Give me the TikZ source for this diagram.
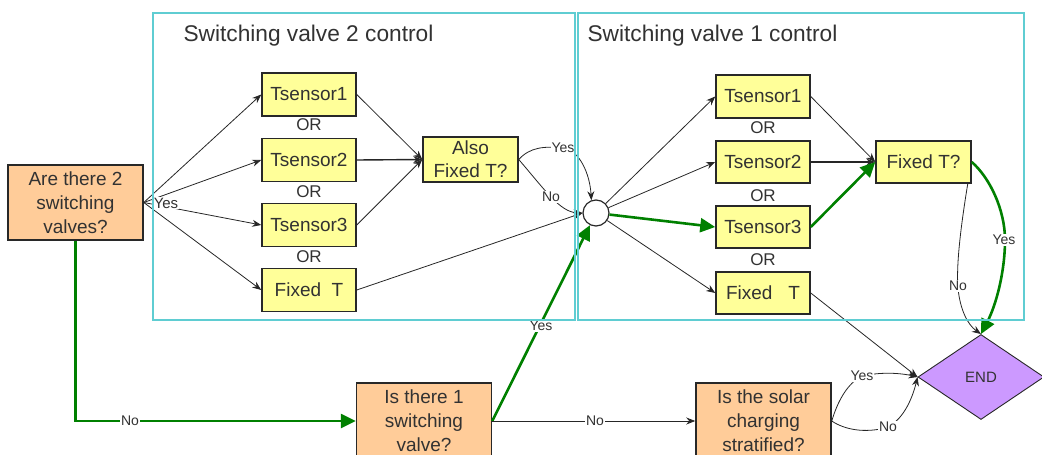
\documentclass[tikz,border=0pt]{standalone}
\usepackage{fontspec}
\setmainfont{Liberation Sans}
\usetikzlibrary{arrows.meta,shapes.geometric}
\definecolor{framec}{RGB}{95,205,210}
\definecolor{ybox}{RGB}{255,255,153}
\definecolor{obox}{RGB}{255,204,153}
\definecolor{pbox}{RGB}{204,153,255}
\definecolor{gline}{RGB}{0,128,0}
\definecolor{txt}{RGB}{50,50,50}
\definecolor{bord}{RGB}{40,40,40}
\begin{document}
\begin{tikzpicture}[x=1pt,y=-1pt,
  ybx/.style={draw=bord, line width=1.5pt, fill=ybox, minimum width=94pt, minimum height=43pt, inner sep=0pt, font=\fontsize{19}{23}\selectfont, text=txt, align=center},
  obx/.style={draw=bord, line width=1.5pt, fill=obox, minimum width=135pt, minimum height=75pt, inner sep=0pt, font=\fontsize{19}{24}\selectfont, text=txt, align=center},
  lbl/.style={fill=white, inner sep=1pt, font=\fontsize{14}{15}\selectfont, text=txt},
  orl/.style={font=\fontsize{17}{17}\selectfont, text=txt},
  ttl/.style={font=\fontsize{22.7}{23}\selectfont, text=txt, anchor=west},
  bl/.style={draw=black!85, line width=0.8pt, -{Stealth[length=9pt,width=7pt]}},
  gl/.style={draw=gline, line width=2.6pt, -{Triangle[length=15pt,width=14pt]}},
  framebox/.style={draw=framec, line width=1.4pt}
]
\useasboundingbox (0,0) rectangle (1042,455);

% nodes
\node[obx] (q2) at (75.5,202.5) {Are there 2\\switching\\valves?};
\node[ybx] (l1) at (309,94.5) {Tsensor1};
\node[ybx] (l2) at (309,160) {Tsensor2};
\node[ybx] (l3) at (309,225) {Tsensor3};
\node[ybx] (lf) at (309,290) {Fixed\ \ T};
\node[ybx, minimum width=95pt, minimum height=45pt] (also) at (470.5,159.5) {Also\\Fixed T?};
\node[draw=bord, line width=1.2pt, fill=white, circle, minimum size=26pt, inner sep=0pt] (circ) at (596,213) {};
\node[ybx] (r1) at (763,96.5) {Tsensor1};
\node[ybx, minimum height=42pt] (r2) at (763,162) {Tsensor2};
\node[ybx, minimum height=42pt] (r3) at (763,227) {Tsensor3};
\node[ybx, minimum height=42pt] (rf) at (763,293) {Fixed\ \ \ T};
\node[ybx, minimum width=95pt, minimum height=42pt] (fix) at (923.5,162) {Fixed T?};
\node[draw=bord, line width=0.9pt, fill=pbox, diamond, aspect=1.48, minimum width=126pt, minimum height=85pt, inner sep=0pt, font=\fontsize{15}{15}\selectfont, text=txt] (end) at (981,377) {END};
\node[obx, minimum height=76pt] (q1) at (424,421) {Is there 1\\switching\\valve?};
\node[obx, minimum height=76pt] (solar) at (763.5,421) {Is the solar\\charging\\stratified?};

% OR labels
\node[orl] (or1) at (309,125) {OR};
\node[orl] (or2) at (309,192) {OR};
\node[orl] (or3) at (309,257) {OR};
\node[orl] (or4) at (763,128) {OR};
\node[orl] (or5) at (763,196) {OR};
\node[orl] (or6) at (763,260) {OR};

% left panel connectors
\draw[bl] (q2.east) -- (l1.west);
\draw[bl] (q2.east) -- (l2.west);
\draw[bl] (q2.east) -- (l3.west);
\draw[bl] (q2.east) -- (lf.west);
\node[lbl, font=\fontsize{15}{15}\selectfont] (yesq2) at (166,203) {Yes};

\draw[bl] (l1.east) -- (also.west);
\draw[bl, line width=1.4pt] (l2.east) -- (also.west);
\draw[bl] (l3.east) -- (also.west);

\draw[bl] (also.east) .. controls (530,147) and (545,146) .. (563,148) .. controls (580,150) and (590,175) .. (circ.110);
\node[lbl] (yesa) at (563,148) {Yes};
\draw[bl] (also.east) .. controls (545,190) and (560,212) .. (circ.west);
\node[lbl] (noa) at (551,197) {No};
\draw[bl] (lf.east) -- (circ.west);

% right panel connectors
\draw[bl] (circ) -- (r1.west);
\draw[bl] (circ) -- (r2.west);
\draw[gl] (circ) -- (r3.west);
\draw[bl] (circ) -- (rf.west);
\draw[bl] (r1.east) -- (fix.west);
\draw[bl, line width=1.2pt] (r2.east) -- (fix.west);
\draw[gl] (r3.east) -- (fix.west);

\draw[bl] ([xshift=-4pt]fix.south east) .. controls (961,225) and (956,265) .. (958,288) .. controls (960,310) and (968,325) .. (end.north);
\node[lbl] (nof) at (958,286) {No};
\draw[gl] (fix.east) .. controls (990,178) and (1005,210) .. (1005,240) .. controls (1005,272) and (996,305) .. (end.north);
\node[lbl] (yesf) at (1004,240) {Yes};
\draw[bl] (rf.east) -- (end.west);

% bottom connectors
\coordinate (corner) at (75.5,421);
\draw[gl] (q2.south) -- (corner) -- (q1.west);
\node[lbl] (noq2) at (130,421) {No};
\draw[gl] (q1.east) -- (circ);
\node[lbl] (yesq1) at (541,326) {Yes};
\draw[bl] (q1.east) -- (solar.west);
\node[lbl] (noq1) at (595,421) {No};

\draw[bl] (solar.east) .. controls (838,400) and (848,383) .. (862,376) .. controls (885,371) and (905,374) .. (end.west);
\node[lbl] (yess) at (862,376) {Yes};
\draw[bl] (solar.east) .. controls (845,430) and (865,433) .. (885,428) .. controls (902,422) and (912,400) .. (end.west);
\node[lbl] (nos) at (888,427) {No};

% frames and titles
\draw[framebox] (153,13) rectangle (575,320);
\draw[framebox] (578,13) rectangle (1024,320);
\node[ttl] (t2) at (180,36) {Switching valve 2 control};
\node[ttl] (t1) at (584,36) {Switching valve 1 control};
\end{tikzpicture}
\end{document}
